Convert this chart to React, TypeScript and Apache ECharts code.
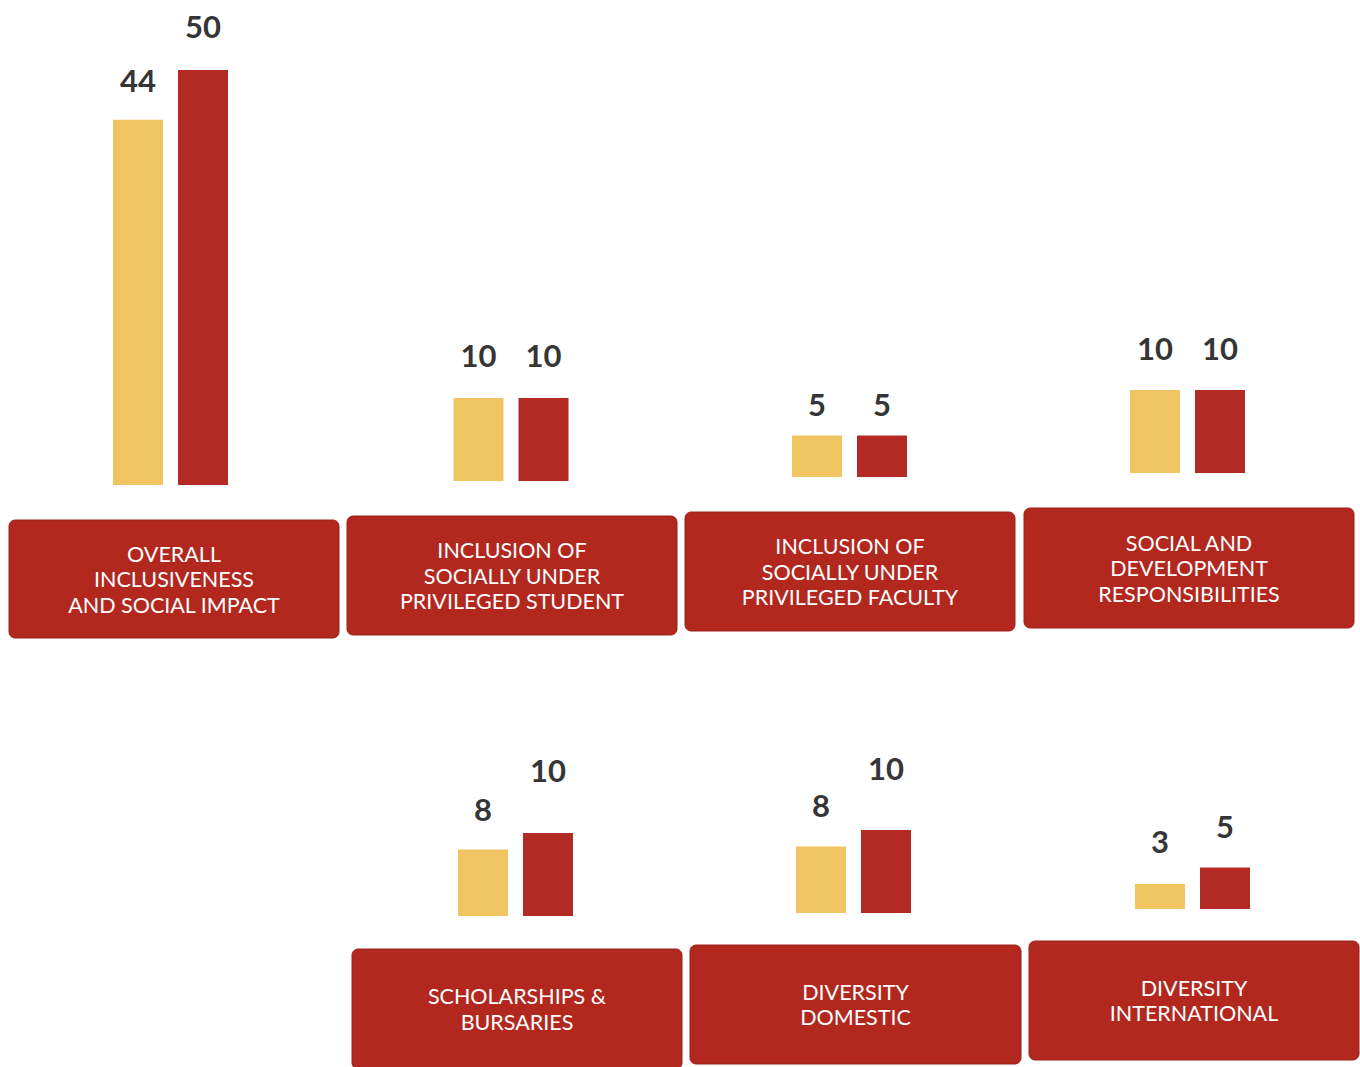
import React, { useEffect, useRef } from "react";
import * as echarts from "echarts";

// ---- data ----
const categories = [
  "OVERALL\nINCLUSIVENESS\nAND SOCIAL IMPACT",
  "INCLUSION OF\nSOCIALLY UNDER\nPRIVILEGED STUDENT",
  "INCLUSION OF\nSOCIALLY UNDER\nPRIVILEGED FACULTY",
  "SOCIAL AND\nDEVELOPMENT\nRESPONSIBILITIES",
  "SCHOLARSHIPS &\nBURSARIES",
  "DIVERSITY\nDOMESTIC",
  "DIVERSITY\nINTERNATIONAL",
];
const scoreValues = [44, 10, 5, 10, 8, 8, 3];
const maxValues = [50, 10, 5, 10, 10, 10, 5];
const axisMax = 50;

// ---- layout (positions / styles only) ----
// cx: bar pair centre, base: bar baseline y, box: [x, y, w, h], label offsets [score, max]
const panels = [
  { cx: 170.5, base: 485, box: [9, 520, 330, 118], off: [40, 44] },
  { cx: 511, base: 481, box: [347, 516, 330, 119], off: [43, 43] },
  { cx: 849.5, base: 477, box: [685, 512, 330, 119], off: [32, 32] },
  { cx: 1187.5, base: 473, box: [1024, 508, 330, 120], off: [42, 42] },
  { cx: 515.5, base: 916, box: [352, 949, 330, 120], off: [41, 63] },
  { cx: 853.5, base: 913, box: [690, 945, 331, 119], off: [42, 62] },
  { cx: 1192.5, base: 909, box: [1029, 941, 330, 119], off: [43, 42] },
];
const PX_PER_UNIT = 8.3;
const GRID_H = axisMax * PX_PER_UNIT;
const YELLOW = "#f1c462";
const RED = "#b32a25";
const BOX = "#b2281f";
const NUM_FONT = 31;

export default function App() {
  const ref = useRef<HTMLDivElement>(null);
  useEffect(() => {
    if (!ref.current) return;
    const chart = echarts.init(ref.current, undefined, { renderer: "svg" });
    const grids: any[] = [];
    const xAxes: any[] = [];
    const yAxes: any[] = [];
    const series: any[] = [];
    const graphics: any[] = [];
    panels.forEach((p, i) => {
      grids.push({ left: p.cx - 65, width: 130, top: p.base - GRID_H, height: GRID_H });
      xAxes.push({
        gridIndex: i,
        type: "category",
        data: [categories[i]],
        show: false,
      });
      yAxes.push({ gridIndex: i, type: "value", min: 0, max: axisMax, show: false });
      const mk = (name: string, val: number, color: string, off: number) => ({
        name,
        type: "bar",
        xAxisIndex: i,
        yAxisIndex: i,
        barWidth: 50,
        barGap: "30%",
        data: [val],
        itemStyle: { color },
        label: {
          show: true,
          position: "top",
          distance: off - NUM_FONT / 2,
          fontFamily: "Lato",
          fontWeight: "bold",
          fontSize: NUM_FONT,
          lineHeight: NUM_FONT,
          color: "#353535",
        },
      });
      series.push(mk("Score", scoreValues[i], YELLOW, p.off[0]));
      series.push(mk("Max", maxValues[i], RED, p.off[1]));
      const [bx, by, bw, bh] = p.box;
      graphics.push({
        type: "rect",
        shape: { x: bx, y: by, width: bw, height: bh, r: 6 },
        style: { fill: BOX, stroke: "#98201a", lineWidth: 1 },
        z: 1,
      });
      graphics.push({
        type: "text",
        x: bx + bw / 2,
        y: by + bh / 2,
        style: {
          text: categories[i],
          fill: "#ffffff",
          fontFamily: "Lato",
          fontSize: 21.5,
          lineHeight: 25.5,
          align: "center",
          verticalAlign: "middle",
        },
        z: 2,
      });
    });
    chart.setOption({
      animation: false,
      backgroundColor: "#ffffff",
      grid: grids,
      xAxis: xAxes,
      yAxis: yAxes,
      series,
      graphic: graphics,
    });
    return () => chart.dispose();
  }, []);
  return (
    <div
      ref={ref}
      style={{ position: "absolute", left: 0, top: 0, width: 1360, height: 1067 }}
    />
  );
}
